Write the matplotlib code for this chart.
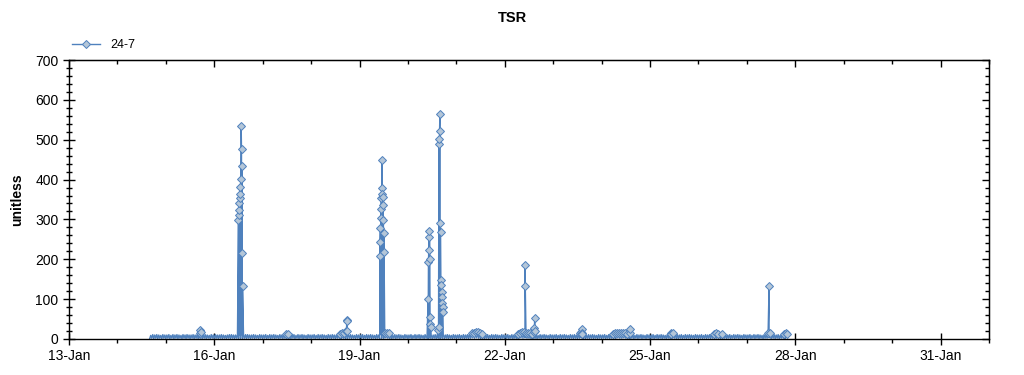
import numpy as np
import pandas as pd
import matplotlib
matplotlib.use('Agg')
import matplotlib.pyplot as plt
import matplotlib.dates as mdates
from matplotlib.ticker import MultipleLocator

plt.rcParams['font.family'] = ['Liberation Sans', 'DejaVu Sans']

LINE_COLOR = '#4F81BD'
FILL_COLOR = '#B4C6D8'

# baseline readings, every 30 minutes from 14-Jan 16:00 (one row per day)
base_start = '2014-01-14 16:00'
base_rows = [
    # 14-Jan (from 16:00)
    "1 9 2 11 1 10 2 11 1 10 2 9 1 11 2 10",
    # 15-Jan
    "1 10 2 11 1 9 2 11 1 10 2 11 1 10 2 9 1 11 2 10 1 11 2 10 "
    "1 10 2 11 1 10 2 11 1 9 2 11 1 10 2 11 1 10 2 9 1 11 2 10",
    # 16-Jan
    "1 11 2 10 1 10 2 11 1 10 2 9 1 10 2 11 1 11 2 10 1 10 2 11 "
    "1 9 2 11 1 10 2 11 1 11 2 10 1 10 2 11 1 10 2 9 1 11 2 10",
    # 17-Jan
    "1 10 2 11 1 9 2 11 1 10 2 11 1 10 2 9 1 11 2 10 1 12 2 13 "
    "2 13 1 12 1 12 2 11 1 9 2 11 1 10 2 11 1 10 2 9 1 11 2 10",
    # 18-Jan
    "1 10 2 11 1 9 2 11 1 10 2 11 1 10 2 9 1 11 2 10 1 11 2 10 "
    "1 10 2 11 2 13 1 15 2 14 1 12 1 10 2 11 1 10 2 9 1 11 2 10",
    # 19-Jan
    "1 10 2 11 1 9 2 11 1 10 2 11 1 10 2 9 1 11 2 10 1 11 2 10 "
    "2 15 3 16 2 14 1 12 1 9 2 11 1 10 2 11 1 10 2 9 1 11 2 10",
    # 20-Jan
    "1 10 2 11 1 9 2 11 1 10 2 11 1 10 2 9 1 11 2 10 1 11 2 10 "
    "1 10 2 11 1 10 2 11 1 9 2 11 1 10 2 11 1 10 2 9 1 11 2 10",
    # 21-Jan
    "1 10 2 11 1 9 2 11 1 10 2 11 1 12 2 14 3 16 2 18 3 17 2 15 "
    "1 13 2 12 1 10 2 11 1 9 2 11 1 10 2 11 1 10 2 9 1 11 2 10",
    # 22-Jan
    "1 10 2 11 1 9 2 11 1 10 2 11 1 13 2 14 3 18 2 17 3 16 2 15 "
    "2 14 1 13 1 12 2 11 1 9 2 11 1 10 2 11 1 10 2 9 1 11 2 10",
    # 23-Jan
    "1 10 2 11 1 9 2 11 1 10 2 11 1 10 2 9 1 11 2 10 1 11 2 10 "
    "1 12 2 14 3 13 1 12 1 9 2 11 1 10 2 11 1 10 2 9 1 11 2 10",
    # 24-Jan
    "1 10 2 11 1 9 2 11 1 12 2 13 2 15 1 14 3 16 2 15 2 14 3 16 "
    "2 13 1 12 1 10 2 11 1 9 2 11 1 10 2 11 1 10 2 9 1 11 2 10",
    # 25-Jan
    "1 10 2 11 1 9 2 11 1 10 2 11 1 10 2 9 1 11 2 10 1 13 2 14 "
    "2 12 1 11 1 10 2 11 1 9 2 11 1 10 2 11 1 10 2 9 1 11 2 10",
    # 26-Jan
    "1 10 2 11 1 9 2 11 1 10 2 11 1 12 2 13 1 14 2 13 2 12 1 13 "
    "1 10 2 11 1 10 2 11 1 9 2 11 1 10 2 11 1 10 2 9 1 11 2 10",
    # 27-Jan (until 19:30)
    "1 10 2 11 1 9 2 11 1 10 2 11 1 10 2 9 1 11 2 10 2 14 3 16 "
    "1 10 2 11 1 10 2 11 1 9 2 11 2 13 1 14",
]
base_vals = [int(v) for row in base_rows for v in row.split()]

# spikes: start time and readings taken every 10 minutes
spike_starts = [
    '2014-01-15 17:00', '2014-01-16 12:00', '2014-01-18 17:30',
    '2014-01-19 10:00', '2014-01-20 10:00', '2014-01-20 15:00',
    '2014-01-22 10:00', '2014-01-22 14:30', '2014-01-23 14:00',
    '2014-01-24 14:00', '2014-01-25 10:30', '2014-01-27 11:00',
    '2014-01-27 20:00',
]
spike_vals = [
    [14, 22, 18, 8],
    [299, 311, 324, 341, 354, 365, 382, 401, 535, 477, 434, 217, 134],
    [20, 48, 44, 20],
    [207, 243, 279, 304, 326, 354, 378, 448, 364, 357, 336, 299, 267, 219],
    [100, 194, 223, 257, 271, 200, 54, 38, 31],
    [22, 31, 488, 501, 523, 565, 291, 269, 148, 135, 119, 105, 91, 80, 67],
    [185, 133],
    [18, 27, 53, 20],
    [18, 24, 14],
    [16, 26, 12],
    [14],
    [134],
    [13, 10],
]

base_t = pd.date_range(base_start, periods=len(base_vals), freq='30min')
parts = [pd.Series(base_vals, index=base_t)]
for st, vals in zip(spike_starts, spike_vals):
    parts.append(pd.Series(vals, index=pd.date_range(st, periods=len(vals), freq='10min')))
series = pd.concat(parts).sort_index()

# low readings disappear inside the dense band, only the higher ones show a marker
show_marker = series.values > 12

fig = plt.figure(figsize=(10.24, 3.75), dpi=100)
ax = fig.add_axes([69 / 1024, 36 / 375, 920 / 1024, 279 / 375])

ax.plot(series.index, series.values, color=LINE_COLOR, lw=1.0, marker='D',
        ms=4, mfc=FILL_COLOR, mec=LINE_COLOR, mew=0.7, label='24-7',
        markevery=list(show_marker))

ax.set_xlim(pd.Timestamp('2014-01-13'), pd.Timestamp('2014-02-01'))
ax.set_ylim(0, 700)
ax.xaxis.set_major_locator(mdates.DayLocator(bymonthday=[13, 16, 19, 22, 25, 28, 31]))
ax.xaxis.set_minor_locator(mdates.DayLocator())
ax.xaxis.set_major_formatter(mdates.DateFormatter('%d-%b'))
ax.yaxis.set_major_locator(MultipleLocator(100))
ax.yaxis.set_minor_locator(MultipleLocator(20))

ax.tick_params(axis='x', which='major', direction='inout', length=8, width=1,
               labelsize=10, pad=3, top=False)
ax.tick_params(axis='x', which='minor', direction='out', length=3, width=1, top=False)
ax.tick_params(axis='y', which='major', direction='inout', length=8, width=1,
               labelsize=10, right=False)
ax.tick_params(axis='y', which='minor', direction='inout', length=5, width=1, right=False)

top = ax.secondary_xaxis('top')
top.xaxis.set_major_locator(mdates.DayLocator(bymonthday=[13, 16, 19, 22, 25, 28, 31]))
top.xaxis.set_minor_locator(mdates.DayLocator())
top.tick_params(which='major', direction='in', length=5, width=1, labeltop=False)
top.tick_params(which='minor', direction='in', length=3, width=1)
top.set_xticklabels([])

right = ax.secondary_yaxis('right')
right.yaxis.set_major_locator(MultipleLocator(100))
right.yaxis.set_minor_locator(MultipleLocator(20))
right.tick_params(which='major', direction='in', length=5, width=1, labelright=False)
right.tick_params(which='minor', direction='in', length=3, width=1)
right.set_yticklabels([])

for sp in ax.spines.values():
    sp.set_linewidth(1)

ax.set_ylabel('unitless', fontsize=10, fontweight='bold', labelpad=8)
fig.text(0.5, 0.952, 'TSR', ha='center', va='center', fontsize=10.5, fontweight='bold')
fig.legend(loc='center left', bbox_to_anchor=(0.059, 0.88), frameon=False,
           fontsize=9, handlelength=2.3, handletextpad=0.8)

fig.savefig('out.png', dpi=100)
